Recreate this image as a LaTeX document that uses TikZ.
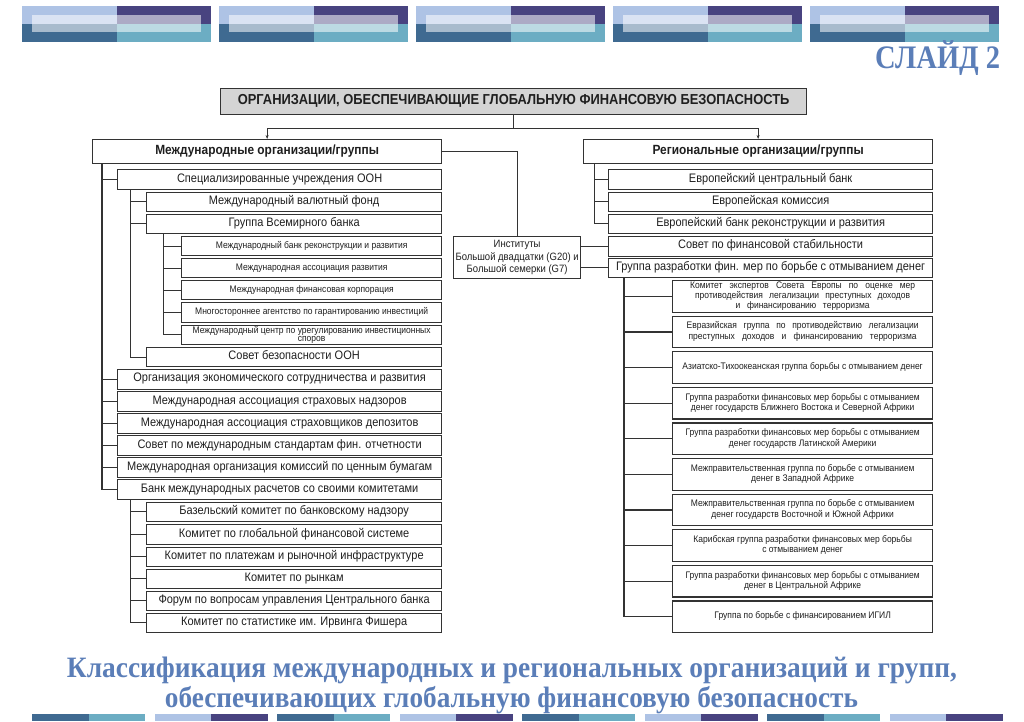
\documentclass[tikz,border=0pt]{standalone}
\usepackage{fontspec}
\setmainfont{Liberation Sans}
\newfontfamily\serifbf{Liberation Serif}
\usetikzlibrary{arrows.meta}
\definecolor{lb}{HTML}{AEC3E5}
\definecolor{nv}{HTML}{484380}
\definecolor{sb}{HTML}{3F6A91}
\definecolor{tl}{HTML}{6CADC3}
\definecolor{ttl}{HTML}{5B7EB8}
\definecolor{ln}{HTML}{333333}
\definecolor{gr}{HTML}{D4D4D4}
\newcommand\fm{\fontsize{11}{12}\selectfont}
\newcommand\fs{\fontsize{8.5}{9.2}\selectfont}
\newcommand\fb{\fontsize{11.9}{13}\selectfont\bfseries}
\newcommand\tx[2]{\scalebox{1}[1.12]{#1\begin{tabular}{@{}c@{}}#2\end{tabular}}}
\newcommand\bx[7]{\node[box,minimum width={(#4-#2)*1pt},minimum height={(#5-#3)*1pt},anchor=north west] (#1) at (#2,#3) {\tx{#6}{#7}};}
\begin{document}
\begin{tikzpicture}[x=1pt,y=-1pt,
  box/.style={draw=ln,line width=1.25pt,fill=white,inner sep=0pt,text=black!88},
  conn/.style={draw=ln,line width=1.1pt},
  arr/.style={conn,-{Stealth[length=4pt,width=3pt]}}]
\useasboundingbox (0,0) rectangle (1024,721);
% top decoration
\foreach \i in {0,...,4}{
 \begin{scope}[shift={(22+197*\i,0)}]
  \fill[lb] (0,6) rectangle (95,24);
  \fill[nv] (95,6) rectangle (189,24);
  \fill[sb] (0,24) rectangle (95,42);
  \fill[tl] (95,24) rectangle (189,42);
  \fill[white,opacity=0.55] (9.5,15) rectangle (179,32);
 \end{scope}}
% bottom strip
\foreach \i in {0,...,7}{
 \pgfmathtruncatemacro\odd{mod(\i,2)}
 \ifnum\odd=0
  \fill[sb] (32+122.5*\i,714) rectangle (88.5+122.5*\i,721);
  \fill[tl] (88.5+122.5*\i,714) rectangle (145+122.5*\i,721);
 \else
  \fill[lb] (32+122.5*\i,714) rectangle (88.5+122.5*\i,721);
  \fill[nv] (88.5+122.5*\i,714) rectangle (145+122.5*\i,721);
 \fi}
% titles
\node[text=ttl,inner sep=0pt,anchor=base west] (sl) at (875,68) {\scalebox{1}[1.15]{\resizebox{125pt}{!}{\serifbf\bfseries СЛАЙД 2}}};
\node[text=ttl,inner sep=0pt,anchor=base] (bt1) at (512,677) {\scalebox{1}[1.08]{\resizebox{890pt}{!}{\serifbf\bfseries Классификация международных и региональных организаций и групп,}}};
\node[text=ttl,inner sep=0pt,anchor=base] (bt2) at (511.5,707) {\scalebox{1}[1.08]{\resizebox{693pt}{!}{\serifbf\bfseries обеспечивающих глобальную финансовую безопасность}}};
% main
\node[box,fill=gr,minimum width=586pt,minimum height=26pt,anchor=north west] (T) at (220,88) {\tx{\fontsize{12.9}{14}\selectfont\bfseries}{ОРГАНИЗАЦИИ, ОБЕСПЕЧИВАЮЩИЕ ГЛОБАЛЬНУЮ ФИНАНСОВУЮ БЕЗОПАСНОСТЬ}};
\bx{L}{92}{139}{441}{163}{\fb}{Международные организации/группы}
\bx{R}{583}{139}{932}{163}{\fb}{Региональные организации/группы}
\bx{L1}{117}{169}{441}{189}{\fm}{Специализированные учреждения ООН}
\bx{L11}{146}{191.5}{441}{210.5}{\fm}{Международный валютный фонд}
\bx{L12}{146}{213.5}{441}{232.5}{\fm}{Группа Всемирного банка}
\bx{L121}{181}{236}{441}{255}{\fs}{Международный банк реконструкции и развития}
\bx{L122}{181}{258}{441}{277}{\fs}{Международная ассоциация развития}
\bx{L123}{181}{280}{441}{299}{\fs}{Международная финансовая корпорация}
\bx{L124}{181}{302}{441}{321.5}{\fs}{Многостороннее агентство по гарантированию инвестиций}
\bx{L125}{181}{324.5}{441}{344}{\fontsize{8.5}{7.3}\selectfont}{Международный центр по урегулированию инвестиционных\\споров}
\bx{L13}{146}{347}{441}{366}{\fm}{Совет безопасности ООН}
\bx{L2}{117}{368.5}{441}{388.5}{\fm}{Организация экономического сотрудничества и развития}
\bx{L3}{117}{391}{441}{410.5}{\fm}{Международная ассоциация страховых надзоров}
\bx{L4}{117}{413}{441}{432.5}{\fm}{Международная ассоциация страховщиков депозитов}
\bx{L5}{117}{435}{441}{454.5}{\fm}{Совет по международным стандартам фин. отчетности}
\bx{L6}{117}{457}{441}{476.5}{\fm}{Международная организация комиссий по ценным бумагам}
\bx{L7}{117}{479}{441}{498.5}{\fm}{Банк международных расчетов со своими комитетами}
\bx{L71}{146}{501.5}{441}{521}{\fm}{Базельский комитет по банковскому надзору}
\bx{L72}{146}{524}{441}{543.5}{\fm}{Комитет по глобальной финансовой системе}
\bx{L73}{146}{546.5}{441}{566}{\fm}{Комитет по платежам и рыночной инфраструктуре}
\bx{L74}{146}{568.5}{441}{588}{\fm}{Комитет по рынкам}
\bx{L75}{146}{590.5}{441}{610}{\fm}{Форум по вопросам управления Центрального банка}
\bx{L76}{146}{612.5}{441}{632}{\fm}{Комитет по статистике им. Ирвинга Фишера}
\bx{G}{453}{236}{580}{278}{\fontsize{9.5}{11}\selectfont}{Институты\\Большой двадцатки (G20) и\\Большой семерки (G7)}
\bx{R1}{608}{169}{932}{189}{\fm}{Европейский центральный банк}
\bx{R2}{608}{191.5}{932}{211}{\fm}{Европейская комиссия}
\bx{R3}{608}{213.5}{932}{233}{\fm}{Европейский банк реконструкции и развития}
\bx{R4}{608}{235.5}{932}{255.5}{\fm}{Совет по финансовой стабильности}
\bx{R5}{608}{257.5}{932}{277}{\fm}{Группа разработки фин. мер по борьбе с отмыванием денег}
\bx{R51}{672}{280}{932}{311.6}{\fs}{\makebox[225pt][s]{Комитет экспертов Совета Европы по оценке мер}\\\makebox[215pt][s]{противодействия легализации преступных доходов}\\\makebox[134pt][s]{и финансированию терроризма}}
\bx{R52}{672}{315.6}{932}{347.2}{\fs}{\makebox[232pt][s]{Евразийская группа по противодействию легализации}\\\makebox[228pt][s]{преступных доходов и финансированию терроризма}}
\bx{R53}{672}{351.2}{932}{382.8}{\fs}{Азиатско-Тихоокеанская группа борьбы с отмыванием денег}
\bx{R54}{672}{386.8}{932}{418.4}{\fs}{Группа разработки финансовых мер борьбы с отмыванием\\денег государств Ближнего Востока и Северной Африки}
\bx{R55}{672}{422.4}{932}{454}{\fs}{Группа разработки финансовых мер борьбы с отмыванием\\денег государств Латинской Америки}
\bx{R56}{672}{458}{932}{489.6}{\fs}{Межправительственная группа по борьбе с отмыванием\\денег в Западной Африке}
\bx{R57}{672}{493.6}{932}{525.2}{\fs}{Межправительственная группа по борьбе с отмыванием\\денег государств Восточной и Южной Африки}
\bx{R58}{672}{529.2}{932}{560.8}{\fs}{Карибская группа разработки финансовых мер борьбы\\с отмыванием денег}
\bx{R59}{672}{564.8}{932}{596.4}{\fs}{Группа разработки финансовых мер борьбы с отмыванием\\денег в Центральной Африке}
\bx{R510}{672}{600.4}{932}{632}{\fs}{Группа по борьбе с финансированием ИГИЛ}
% connectors
\draw[conn] (T.south) -- ([yshift=-13pt]T.south) coordinate (tj);
\draw[arr] (tj) -| (L.north);
\draw[arr] (tj) -| (R.north);
\draw[conn] (L.east) -| (G.north);
\draw[conn] (R4.west -| G.east) -- (R4.west);
\draw[conn] (R5.west -| G.east) -- (R5.west);
\coordinate (lt) at ([xshift=10pt]L.south west);
\draw[conn] (lt) |- (L7.west);
\foreach \n in {L1,L2,L3,L4,L5,L6} \draw[conn] (\n.west -| lt) -- (\n.west);
\coordinate (l1t) at ([xshift=13.5pt]L1.south west);
\draw[conn] (l1t) |- (L13.west);
\foreach \n in {L11,L12} \draw[conn] (\n.west -| l1t) -- (\n.west);
\coordinate (l12t) at ([xshift=17.5pt]L12.south west);
\draw[conn] (l12t) |- (L125.west);
\foreach \n in {L121,L122,L123,L124} \draw[conn] (\n.west -| l12t) -- (\n.west);
\coordinate (l7t) at ([xshift=13.5pt]L7.south west);
\draw[conn] (l7t) |- (L76.west);
\foreach \n in {L71,L72,L73,L74,L75} \draw[conn] (\n.west -| l7t) -- (\n.west);
\coordinate (rt) at ([xshift=11.5pt]R.south west);
\draw[conn] (rt) |- (R3.west);
\foreach \n in {R1,R2} \draw[conn] (\n.west -| rt) -- (\n.west);
\coordinate (r5t) at ([xshift=16pt]R5.south west);
\draw[conn] (r5t) |- (R510.west);
\foreach \n in {R51,R52,R53,R54,R55,R56,R57,R58,R59} \draw[conn] (\n.west -| r5t) -- (\n.west);
\end{tikzpicture}
\end{document}
